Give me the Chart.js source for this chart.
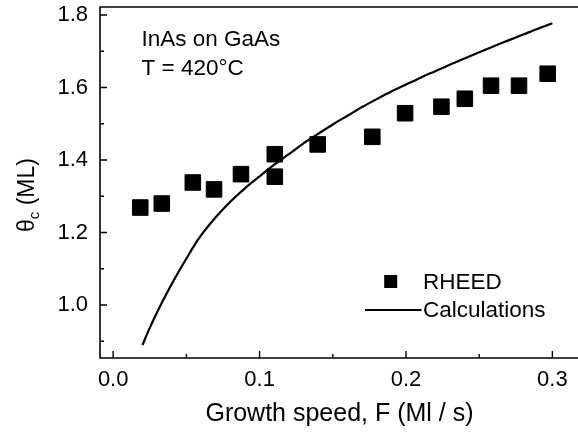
<!DOCTYPE html>
<html><head><meta charset="utf-8">
<script src="https://cdn.jsdelivr.net/npm/chart.js@4.4.0/dist/chart.umd.min.js"></script>
<style>html,body{margin:0;padding:0;background:#fff;overflow:hidden}#wrap{width:578px;height:432px;position:relative}</style>
</head><body><div id="wrap"><canvas id="c" width="578" height="432"></canvas></div>
<script>
// ---- data ----
const rheedF     = [0.0185,0.0332,0.0544,0.0689,0.0873,0.1104,0.1104,0.1397,0.1770,0.1994,0.2242,0.2402,0.2581,0.2772,0.2968];
const rheedTheta = [1.269, 1.280, 1.338, 1.319, 1.361, 1.416, 1.354, 1.443, 1.464, 1.529, 1.547, 1.569, 1.605, 1.605, 1.638];
const calcF      = [0.020,0.025,0.030,0.035,0.040,0.045,0.050,0.055,0.060,0.070,0.080,0.090,0.100,0.110,0.120,0.130,0.140,0.150,0.160,0.170,0.180,0.190,0.200,0.210,0.220,0.230,0.240,0.250,0.260,0.270,0.280,0.290,0.300];
const calcTheta  = [0.890,0.937,0.980,1.020,1.058,1.094,1.128,1.162,1.192,1.242,1.285,1.322,1.355,1.387,1.416,1.446,1.472,1.498,1.522,1.546,1.568,1.589,1.608,1.627,1.645,1.663,1.680,1.697,1.714,1.730,1.746,1.762,1.777];
const xMajorTicks = [0.0,0.1,0.2,0.3];
const xMinorTicks = [0.05,0.15,0.25];
const yMajorTicks = [1.0,1.2,1.4,1.6,1.8];
const yMinorTicks = [0.9,1.1,1.3,1.5,1.7];
const seriesLabels = ['RHEED','Calculations'];
const xTitle = 'Growth speed, F (Ml / s)';
const yTitleParts = ['\u03B8','c',' (ML)'];
const noteLines = ['InAs on GaAs','T = 420\u00B0C'];

const FONT = '"Liberation Sans", Arial, Helvetica, sans-serif';

const decor = {
  id:'decor',
  afterDraw(chart){
    const {ctx, chartArea:a, scales:{x,y}} = chart;
    ctx.save();
    ctx.strokeStyle='#000'; ctx.lineWidth=1.6; ctx.lineCap='butt';
    ctx.beginPath();
    ctx.moveTo(a.right+4, a.top); ctx.lineTo(a.left, a.top);
    ctx.lineTo(a.left, a.bottom); ctx.lineTo(a.right+4, a.bottom);
    ctx.stroke();
    ctx.lineWidth=1.4;
    ctx.beginPath();
    xMajorTicks.forEach(v=>{const p=x.getPixelForValue(v); ctx.moveTo(p,a.bottom); ctx.lineTo(p,a.bottom-7);});
    xMinorTicks.forEach(v=>{const p=x.getPixelForValue(v); ctx.moveTo(p,a.bottom); ctx.lineTo(p,a.bottom-4);});
    yMajorTicks.forEach(v=>{const p=y.getPixelForValue(v); ctx.moveTo(a.left,p); ctx.lineTo(a.left+7,p);});
    yMinorTicks.forEach(v=>{const p=y.getPixelForValue(v); ctx.moveTo(a.left,p); ctx.lineTo(a.left+4,p);});
    ctx.stroke();

    ctx.fillStyle='#000';
    // x title
    ctx.font='25px '+FONT; ctx.textAlign='center'; ctx.textBaseline='alphabetic';
    ctx.fillText(xTitle, 339.5, 420.8);
    // y title with subscript
    ctx.save();
    ctx.translate(26,195); ctx.rotate(-Math.PI/2);
    ctx.textAlign='left';
    const big='23px '+FONT, small='15px '+FONT;
    ctx.font=big; const w0=ctx.measureText(yTitleParts[0]).width;
    ctx.font=small; const w1=ctx.measureText(yTitleParts[1]).width;
    ctx.font=big; const w2=ctx.measureText(yTitleParts[2]).width;
    let sx=-(w0+w1+w2)/2;
    ctx.font=big; ctx.fillText(yTitleParts[0], sx, 8); sx+=w0;
    ctx.font=small; ctx.fillText(yTitleParts[1], sx, 13); sx+=w1;
    ctx.font=big; ctx.fillText(yTitleParts[2], sx, 8);
    ctx.restore();
    // note
    ctx.font='22.5px '+FONT; ctx.textAlign='left';
    ctx.fillText(noteLines[0], 141.5, 45.7);
    ctx.fillText(noteLines[1], 141.5, 75);
    // legend
    const ds=chart.data.datasets;
    ctx.fillStyle=ds[0].backgroundColor;
    ctx.fillRect(384.2,275,13,13);
    ctx.fillStyle='#000';
    ctx.font='22.5px '+FONT;
    ctx.fillText(ds[0].label, 423, 289.3);
    ctx.strokeStyle=ds[1].borderColor; ctx.lineWidth=2;
    ctx.beginPath(); ctx.moveTo(365,310); ctx.lineTo(421.5,310); ctx.stroke();
    ctx.fillText(ds[1].label, 423, 316.7);
    ctx.restore();
  }
};

const zeroPad = s => { s.paddingTop=0; s.paddingBottom=0; s.paddingLeft=0; s.paddingRight=0; };

new Chart(document.getElementById('c'), {
  type:'scatter',
  data:{datasets:[
    {label:seriesLabels[0], data:rheedF.map((f,i)=>({x:f,y:rheedTheta[i]})),
     pointStyle:'rect', pointRadius:11, pointHoverRadius:11, backgroundColor:'#000', borderColor:'#000', borderWidth:1, showLine:false, order:1},
    {label:seriesLabels[1], data:calcF.map((f,i)=>({x:f,y:calcTheta[i]})),
     showLine:true, pointRadius:0, borderColor:'#000', backgroundColor:'#000', borderWidth:2.2, cubicInterpolationMode:'monotone', fill:false, order:2}
  ]},
  options:{
    responsive:false, animation:false, devicePixelRatio:1,
    layout:{autoPadding:false, padding:{top:7,right:0,left:0,bottom:0}},
    plugins:{legend:{display:false}, tooltip:{enabled:false}},
    events:[],
    scales:{
      x:{type:'linear', min:-0.009, max:0.3175,
         grid:{display:false, drawTicks:false}, border:{display:false},
         afterBuildTicks:s=>{s.ticks=xMajorTicks.map(v=>({value:v}));},
         afterFit:s=>{s.height=74; zeroPad(s);},
         ticks:{padding:9, color:'#000', font:{family:FONT,size:22}, callback:v=>Number(v).toFixed(1), maxRotation:0, autoSkip:false}},
      y:{type:'linear', min:0.854, max:1.822,
         grid:{display:false, drawTicks:false}, border:{display:false},
         afterBuildTicks:s=>{s.ticks=yMajorTicks.map(v=>({value:v}));},
         afterFit:s=>{s.width=100; zeroPad(s);},
         ticks:{padding:12, color:'#000', font:{family:FONT,size:22}, callback:v=>Number(v).toFixed(1), autoSkip:false}}
    }
  },
  plugins:[decor]
});
</script></body></html>
